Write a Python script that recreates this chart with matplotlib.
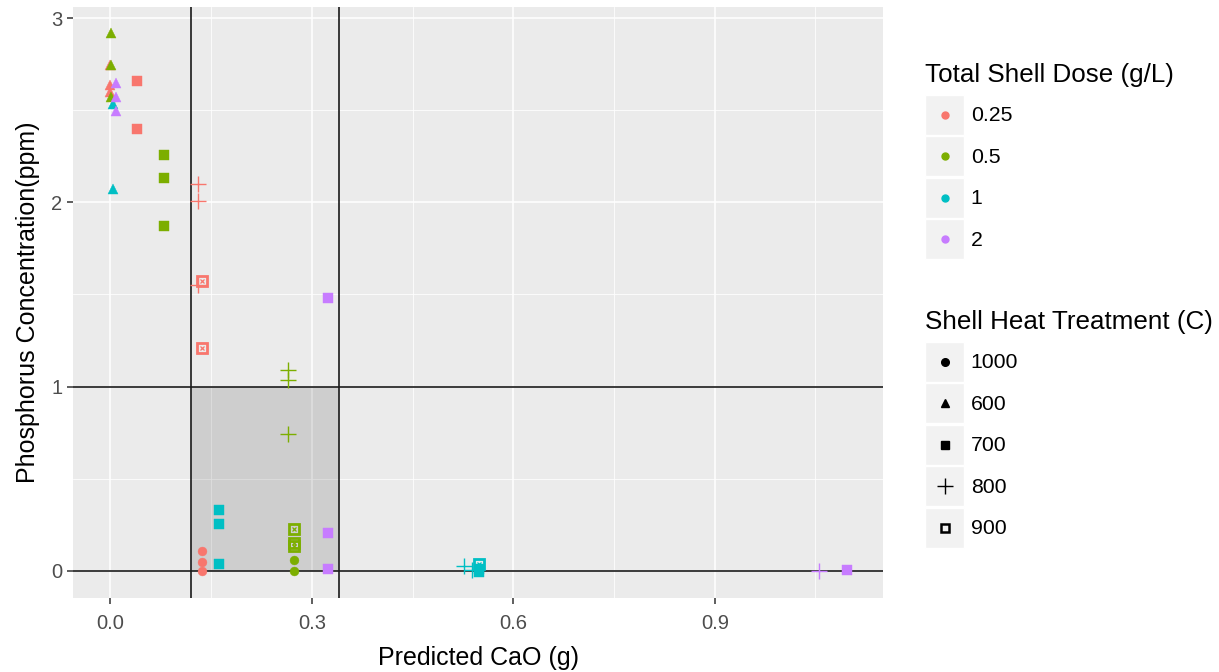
import matplotlib
matplotlib.use("Agg")
import matplotlib.pyplot as plt
from matplotlib.lines import Line2D
from matplotlib.patches import Rectangle
from matplotlib.legend_handler import HandlerLine2D

plt.rcParams["font.family"] = ["Liberation Sans", "DejaVu Sans"]

# ---- data ----
dose_levels = ["0.25", "0.5", "1", "2"]
temp_levels = ["1000", "600", "700", "800", "900"]
dose_colors = ["#F8766D", "#7CAE00", "#00BFC4", "#C77CFF"]

# 600 C
cao_600 = [0.000, 0.000, 0.000, 0.001, 0.001, 0.001, 0.004, 0.004, 0.008, 0.008, 0.008]
p_600 = [2.745, 2.638, 2.602, 2.919, 2.747, 2.575, 2.533, 2.073, 2.647, 2.575, 2.497]
dose_600 = ["0.25", "0.25", "0.25", "0.5", "0.5", "0.5", "1", "1", "2", "2", "2"]
# 700 C
cao_700 = [0.039, 0.039, 0.080, 0.080, 0.080, 0.162, 0.162, 0.162, 0.324, 0.324, 0.324,
           0.549, 0.549, 1.097]
p_700 = [2.662, 2.401, 2.258, 2.131, 1.871, 0.330, 0.252, 0.035, 1.480, 0.203, 0.008,
         0.010, -0.008, 0.004]
dose_700 = ["0.25", "0.25", "0.5", "0.5", "0.5", "1", "1", "1", "2", "2", "2", "1", "1", "2"]
# 800 C
cao_800 = [0.131, 0.131, 0.131, 0.264, 0.264, 0.264, 0.527, 0.538, 1.055]
p_800 = [2.100, 2.008, 1.552, 1.090, 1.036, 0.743, 0.025, 0.004, 0.000]
dose_800 = ["0.25", "0.25", "0.25", "0.5", "0.5", "0.5", "1", "1", "2"]
# 900 C
cao_900 = [0.137, 0.137, 0.274, 0.274, 0.274, 0.549]
p_900 = [1.574, 1.208, 0.226, 0.152, 0.136, 0.035]
dose_900 = ["0.25", "0.25", "0.5", "0.5", "0.5", "1"]
# 1000 C
cao_1000 = [0.137, 0.137, 0.137, 0.274, 0.274]
p_1000 = [0.107, 0.049, 0.000, 0.058, 0.000]
dose_1000 = ["0.25", "0.25", "0.25", "0.5", "0.5"]

by_temp = {
    "600": (cao_600, p_600, dose_600),
    "700": (cao_700, p_700, dose_700),
    "800": (cao_800, p_800, dose_800),
    "900": (cao_900, p_900, dose_900),
    "1000": (cao_1000, p_1000, dose_1000),
}

# target window
CAO_LOW, CAO_HIGH = 0.12, 0.34
P_LIMIT = 1.0

marker_for = {"1000": "o", "600": "^", "700": "s", "800": "+", "900": "s"}
size_for = {"1000": 6.4, "600": 7.5, "700": 7.4, "800": 11, "900": 7.6}


class KeyHandler(HandlerLine2D):
    """legend key with ggplot-like grey box behind a centred marker"""
    def create_artists(self, legend, orig_handle, xdescent, ydescent,
                       width, height, fontsize, trans):
        arts = super().create_artists(legend, orig_handle, xdescent, ydescent,
                                      width, height, fontsize, trans)
        for a in arts:
            a.set_ydata([height / 2 - ydescent] * len(a.get_xdata()))
        bg = Rectangle((-xdescent, -ydescent), width, height, facecolor="#F2F2F2",
                       edgecolor="white", lw=1, transform=trans)
        return [bg] + list(arts)


fig = plt.figure(figsize=(12.19, 6.72), dpi=100)
ax = fig.add_axes([0.0601, 0.1106, 0.6645, 0.8796])
ax.set_facecolor("#EBEBEB")
for s in ax.spines.values():
    s.set_visible(False)

ax.set_xlim(-0.0554, 1.151)
ax.set_ylim(-0.147, 3.064)
ax.set_xticks([0.0, 0.3, 0.6, 0.9])
ax.set_xticklabels(["0.0", "0.3", "0.6", "0.9"])
ax.set_xticks([0.15, 0.45, 0.75, 1.05], minor=True)
ax.set_yticks([0, 1, 2, 3])
ax.set_yticks([0.5, 1.5, 2.5], minor=True)
ax.grid(which="major", color="white", lw=1.1)
ax.grid(which="minor", color="white", lw=0.55)
ax.set_axisbelow(True)
ax.tick_params(which="major", length=4, width=1.1, color="#333333",
               labelcolor="#4D4D4D", labelsize=14.5)
ax.tick_params(axis="x", which="major", pad=8)
ax.tick_params(axis="y", which="major", pad=4)
ax.tick_params(which="minor", length=0)

ax.add_patch(Rectangle((CAO_LOW, 0), CAO_HIGH - CAO_LOW, P_LIMIT,
                       facecolor="black", alpha=0.12, lw=0, zorder=1.5))
for xv in (CAO_LOW, CAO_HIGH):
    ax.axvline(xv, color="#1A1A1A", lw=1.2, zorder=2)
for yv in (0, P_LIMIT):
    ax.axhline(yv, color="#1A1A1A", lw=1.2, zorder=2)

for t in temp_levels:
    cao, phos, dose = by_temp[t]
    for d, col in zip(dose_levels, dose_colors):
        xs = [x for x, dd in zip(cao, dose) if dd == d]
        ys = [y for y, dd in zip(phos, dose) if dd == d]
        if not xs:
            continue
        if t == "900":
            ax.plot(xs, ys, ls="none", marker="s", ms=size_for[t], mfc="none",
                    mec=col, mew=2.0, zorder=3)
            ax.plot(xs, ys, ls="none", marker="x", ms=3.2, mec=col, mew=0.9, zorder=3)
        elif t == "800":
            ax.plot(xs, ys, ls="none", marker="+", ms=size_for[t], mec=col, mew=1.0, zorder=3)
        else:
            ax.plot(xs, ys, ls="none", marker=marker_for[t], ms=size_for[t],
                    mfc=col, mec=col, mew=0.3, zorder=3)

ax.set_xlabel("Predicted CaO (g)", fontsize=18, color="black", labelpad=9)
ax.set_ylabel("Phosphorus Concentration(ppm)", fontsize=18, color="black", labelpad=8)

# legends
dose_handles = [Line2D([], [], ls="none", marker="o", ms=5, mfc=c, mec=c) for c in dose_colors]
temp_handles = []
for t in temp_levels:
    if t == "900":
        temp_handles.append(Line2D([], [], ls="none", marker="s", ms=6, mfc="none",
                                   mec="black", mew=1.8))
    elif t == "800":
        temp_handles.append(Line2D([], [], ls="none", marker="+", ms=11, mec="black", mew=1.0))
    else:
        temp_handles.append(Line2D([], [], ls="none", marker=marker_for[t], ms=5.5,
                                   mfc="black", mec="black"))

common = dict(frameon=False, fontsize=15.3, title_fontsize=18.7, handlelength=1.85,
              handleheight=2.5, labelspacing=0.08, handletextpad=0.3,
              borderpad=0, borderaxespad=0, alignment="left",
              handler_map={Line2D: KeyHandler(numpoints=1)})
leg1 = fig.legend(dose_handles, dose_levels, title="Total Shell Dose (g/L)",
                  loc="upper left", bbox_to_anchor=(925 / 1219, 1 - 63 / 672), **common)
leg2 = fig.legend(temp_handles, temp_levels, title="Shell Heat Treatment (C)",
                  loc="upper left", bbox_to_anchor=(925 / 1219, 1 - 310 / 672), **common)
# a bit more room between legend title and keys, like ggplot
for leg in (leg1, leg2):
    leg._legend_box.sep = 5.8

fig.savefig("out.png", dpi=100)
